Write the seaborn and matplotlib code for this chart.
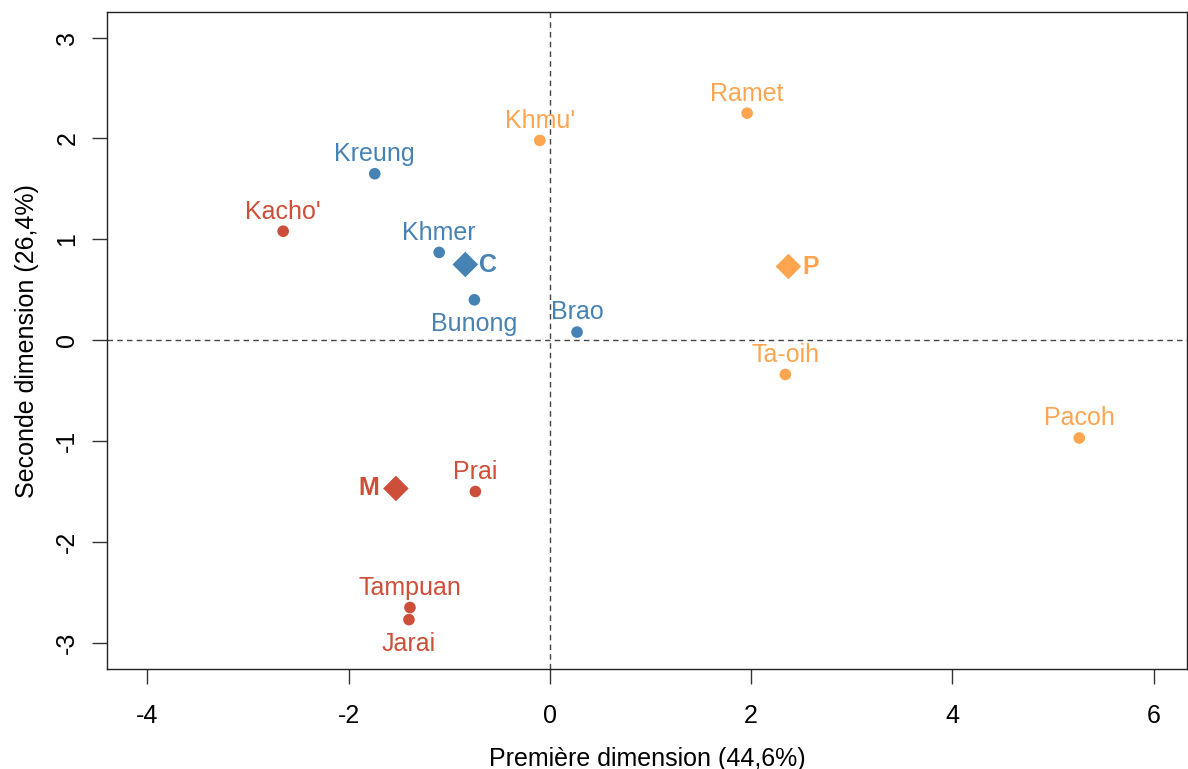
import pandas as pd
import matplotlib
matplotlib.use("Agg")
import matplotlib.pyplot as plt
import seaborn as sns

# coordinates
names = ["Kreung", "Khmer", "Bunong", "Brao",
         "Kacho'", "Prai", "Tampuan", "Jarai",
         "Khmu'", "Ramet", "Ta-oih", "Pacoh"]
dim1 = [-1.74, -1.10, -0.75, 0.27,
        -2.65, -0.74, -1.39, -1.40,
        -0.10, 1.96, 2.34, 5.26]
dim2 = [1.65, 0.87, 0.40, 0.08,
        1.08, -1.50, -2.65, -2.77,
        1.98, 2.25, -0.34, -0.97]
group = ["C", "C", "C", "C",
         "M", "M", "M", "M",
         "P", "P", "P", "P"]
# where the label sits: above / below
label_pos = ["up", "up", "down", "up",
             "up", "up", "up", "down",
             "up", "up", "up", "up"]

centre_names = ["C", "M", "P"]
centre_x = [-0.84, -1.53, 2.37]
centre_y = [0.75, -1.47, 0.73]

palette = {"C": "#4682B4", "M": "#CD4F39", "P": "#FFA54F"}

df = pd.DataFrame({"name": names, "x": dim1, "y": dim2, "group": group, "pos": label_pos})
centres = pd.DataFrame({"name": centre_names, "x": centre_x, "y": centre_y})

sns.set_style("ticks")
plt.rcParams["font.family"] = ["Liberation Sans", "DejaVu Sans"]
plt.rcParams["axes.unicode_minus"] = False

fig = plt.figure(figsize=(11.88, 7.69), dpi=100)
ax = fig.add_axes([0.0901, 0.130, 0.909, 0.854])

ax.axhline(0, color="#444444", ls=(0, (4, 3)), lw=1, zorder=1)
ax.axvline(0, color="#444444", ls=(0, (4, 3)), lw=1, zorder=1)

sns.scatterplot(data=df, x="x", y="y", hue="group", palette=palette,
                s=70, edgecolor="none", legend=False, ax=ax, zorder=3)
sns.scatterplot(data=centres, x="x", y="y", hue="name", palette=palette,
                marker="D", s=170, edgecolor="none", legend=False, ax=ax, zorder=3)

fs = 18
for _, r in df.iterrows():
    if r["pos"] == "up":
        ax.annotate(r["name"], (r["x"], r["y"]), xytext=(0, 5.5), textcoords="offset points",
                    ha="center", va="bottom", fontsize=fs, color=palette[r["group"]])
    else:
        ax.annotate(r["name"], (r["x"], r["y"]), xytext=(0, -9), textcoords="offset points",
                    ha="center", va="top", fontsize=fs, color=palette[r["group"]])

for _, r in centres.iterrows():
    if r["name"] == "M":
        ax.annotate(r["name"], (r["x"], r["y"]), xytext=(-12, 0), textcoords="offset points",
                    ha="right", va="center", fontsize=fs, fontweight="bold", color=palette[r["name"]])
    else:
        ax.annotate(r["name"], (r["x"], r["y"]), xytext=(10, 0), textcoords="offset points",
                    ha="left", va="center", fontsize=fs, fontweight="bold", color=palette[r["name"]])

ax.set_xlim(-4.40, 6.33)
ax.set_ylim(-3.26, 3.25)
ax.set_xticks([-4, -2, 0, 2, 4, 6])
ax.set_yticks([-3, -2, -1, 0, 1, 2, 3])
ax.tick_params(axis="both", length=11, width=1, labelsize=fs, color="#333333", labelcolor="black")
ax.tick_params(axis="x", pad=14)
ax.tick_params(axis="y", pad=9)
for lab in ax.get_yticklabels():
    lab.set_rotation(90)
    lab.set_va("center")
for sp in ax.spines.values():
    sp.set_color("#222222")
    sp.set_linewidth(1)

ax.set_xlabel("Première dimension (44,6%)", fontsize=fs, color="black", labelpad=14)
ax.set_ylabel("Seconde dimension (26,4%)", fontsize=fs, color="black", labelpad=12)

fig.savefig("out.png", dpi=100)
